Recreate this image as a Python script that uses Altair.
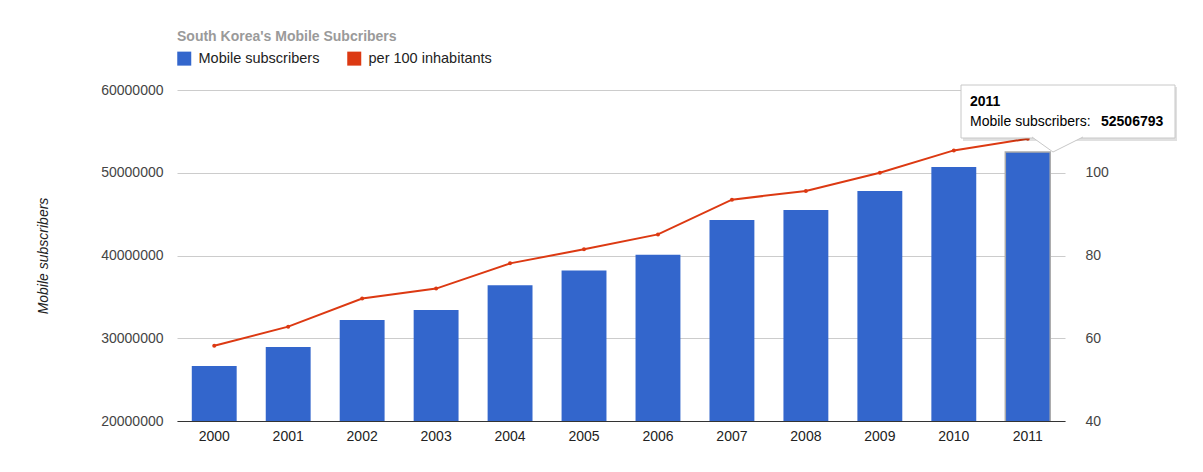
import altair as alt
import pandas as pd

# ---- data ----
years = ["2000", "2001", "2002", "2003", "2004", "2005",
         "2006", "2007", "2008", "2009", "2010", "2011"]
subscribers = [26650000, 28940000, 32200000, 33400000, 36400000, 38200000,
               40100000, 44300000, 45500000, 47800000, 50700000, 52506793]
per_100 = [58.2, 62.8, 69.6, 72.0, 78.1, 81.5, 85.1, 93.5, 95.6, 100.0, 105.4, 108.2]
series_names = ["Mobile subscribers", "per 100 inhabitants"]
left_ticks = [20000000, 30000000, 40000000, 50000000, 60000000]
right_ticks = [40, 60, 80, 100, 120]
hover_year = "2011"

BLUE = "#3366cc"
RED = "#dc3912"
FONT = "Arial, Liberation Sans, Helvetica, sans-serif"

df = pd.DataFrame({
    "year": years,
    "subs": subscribers,
    "per100": per_100,
    "series": series_names[0],
})

x_enc = alt.X(
    "year:O",
    scale=alt.Scale(paddingInner=0.393, paddingOuter=0.2),
    axis=alt.Axis(title=None, labelAngle=0, ticks=False, domain=True,
                  domainColor="#333333", labelPadding=8, grid=False,
                  labelFontSize=14, labelColor="#222222"),
)

bars = alt.Chart(df).mark_bar(clip=True).encode(
    x=x_enc,
    y=alt.Y("subs:Q",
            scale=alt.Scale(domain=[20000000, 60000000], nice=False, zero=False),
            axis=alt.Axis(title="Mobile subscribers", values=left_ticks, format="d",
                          grid=True, gridColor="#cccccc", ticks=False, domain=False,
                          labelPadding=14, labelFontSize=14, labelColor="#444444",
                          titleFontSize=14, titleFontStyle="italic",
                          titleFontWeight="normal", titleColor="#222222",
                          titlePadding=50)),
    color=alt.Color("series:N",
                    scale=alt.Scale(domain=series_names, range=[BLUE, RED]),
                    legend=alt.Legend(title=None, orient="none", legendX=0, legendY=-39,
                                      direction="horizontal", symbolType="square",
                                      symbolSize=196, symbolStrokeWidth=0,
                                      labelFontSize=14.5, labelColor="#222222",
                                      labelOffset=7, columnPadding=27)),
    stroke=alt.condition(f"datum.year == '{hover_year}'",
                         alt.value("#aaaaaa"), alt.value("transparent")),
    strokeWidth=alt.value(1.5),
)

line = alt.Chart(df).mark_line(
    color=RED, strokeWidth=2,
    point=alt.OverlayMarkDef(filled=True, color=RED, size=16, opacity=1),
).encode(
    x=x_enc,
    y=alt.Y("per100:Q",
            scale=alt.Scale(domain=[40, 120], nice=False, zero=False),
            axis=alt.Axis(title=None, orient="right", values=right_ticks, grid=False,
                          ticks=False, domain=False, labelPadding=20,
                          labelFontSize=14, labelColor="#444444")),
)

# ---- hover tooltip annotation (as in the reference screenshot) ----
tip_src = alt.Chart(df).transform_filter(f"datum.year == '{hover_year}'")

tip_shadow = tip_src.mark_rect(fill="#000000", opacity=0.12).encode(
    x=alt.value(786), x2=alt.value(1000), y=alt.value(-3), y2=alt.value(51))
tip_box = tip_src.mark_rect(fill="white", stroke="#c8c8c8", strokeWidth=1).encode(
    x=alt.value(784), x2=alt.value(998), y=alt.value(-5), y2=alt.value(48))
tip_pointer = tip_src.mark_point(
    shape="M -21 -1 L 0 14 L 30 -1", size=4, filled=True, fill="white",
    stroke="#c8c8c8", strokeWidth=1, opacity=1,
).encode(x=alt.value(876), y=alt.value(48))
tip_year = tip_src.mark_text(align="left", baseline="middle", fontSize=14,
                             fontWeight="bold", color="#000000").encode(
    x=alt.value(793), y=alt.value(12), text="year:N")
tip_label = tip_src.mark_text(align="left", baseline="middle", fontSize=14,
                              color="#000000").encode(
    x=alt.value(793), y=alt.value(32), text=alt.value("Mobile subscribers:"))
tip_value = tip_src.mark_text(align="left", baseline="middle", fontSize=14,
                              fontWeight="bold", color="#000000").encode(
    x=alt.value(924), y=alt.value(32), text=alt.Text("subs:Q", format="d"))

chart = alt.layer(
    bars, line, tip_shadow, tip_box, tip_pointer, tip_year, tip_label, tip_value
).resolve_scale(
    y="independent"
).properties(
    width=888, height=331,
    title=alt.Title("South Korea's Mobile Subcribers", anchor="start", frame="group",
                    fontSize=14, fontWeight="bold", color="#9a9a9a",
                    baseline="alphabetic", offset=-4),
    autosize=alt.AutoSizeParams(type="none"),
    padding={"left": 169, "top": 82, "right": 130, "bottom": 40},
).configure(
    font=FONT,
).configure_view(
    stroke=None,
)

chart.save("out.html", embed_options={"renderer": "svg", "actions": False})
